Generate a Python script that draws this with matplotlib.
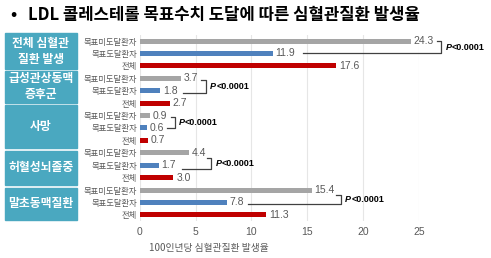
import matplotlib
matplotlib.use('Agg')
import matplotlib.pyplot as plt
from matplotlib.patches import Rectangle

plt.rcParams['font.family'] = ['Noto Sans CJK KR', 'DejaVu Sans']

groups = ['전체 심혈관\n질환 발생', '급성관상동맥\n증후군', '사망', '허혈성뇌졸중', '말초동맥질환']
rows = ['목표미도달환자', '목표도달환자', '전체']
values = [[24.3, 11.9, 17.6],
          [3.7, 1.8, 2.7],
          [0.9, 0.6, 0.7],
          [4.4, 1.7, 3.0],
          [15.4, 7.8, 11.3]]
pvals = ['<0.0001'] * 5
# bracket: vertical line x, start of top line, start of bottom line
brackets = [(27.0, 26.6, 14.6), (5.9, 5.5, 3.85), (3.1, 2.75, 2.4), (6.4, 6.0, 3.75), (18.0, 17.6, 9.7)]
# vertical shift of bracket top / bottom relative to the bars
shifts = [(0.0, 0.0), (0.1, 0.15), (0.15, 0.0), (0.45, 0.3), (0.4, 0.1)]
colors = ['#a5a5a5', '#4f81bd', '#c00000']

fig = plt.figure(figsize=(4.91, 2.58), dpi=100)
ax = fig.add_axes([0.285, 0.143, 0.568, 0.722])

ypos = []
labels = []
for g in range(5):
    for r in range(3):
        y = g * 3 + r
        v = values[g][r]
        ax.barh(y, v, height=0.4, color=colors[r], zorder=3)
        ax.text(v + 0.25, y, f'{v:.1f}', va='center', ha='left', fontsize=7.5,
                color='#595959', family='Liberation Sans')
        ypos.append(y)
        labels.append(rows[r])
    bx, tx, bbx = brackets[g]
    y0 = g * 3 + shifts[g][0]
    y1 = g * 3 + 1 + shifts[g][1]
    ax.plot([tx, bx, bx, bbx], [y0, y0, y1, y1], color='#404040', lw=0.9, clip_on=False, zorder=4)
    ym = (y0 + y1) / 2
    ax.text(bx + 0.4, ym, 'P', va='center', ha='left', fontsize=6.5, fontweight='bold',
            fontstyle='italic', family='Liberation Sans', clip_on=False)
    ax.annotate(pvals[g], (bx + 0.4, ym), xytext=(4.3, 0), textcoords='offset points',
                va='center', ha='left', fontsize=6.5, fontweight='bold',
                family='Liberation Sans', annotation_clip=False)

ax.set_yticks(ypos)
ax.set_yticklabels(labels, fontsize=6, color='#595959')
ax.set_ylim(14.5, -0.5)
ax.set_xlim(0, 25)
ax.set_xticks([0, 5, 10, 15, 20, 25])
ax.tick_params(axis='x', labelsize=7.5, colors='#595959', length=0, pad=4)
for lb in ax.get_xticklabels():
    lb.set_family('Liberation Sans')
ax.tick_params(axis='y', length=0, pad=2)
ax.grid(axis='x', color='#e6e6e6', lw=0.8, zorder=0)
for s in ax.spines.values():
    s.set_visible(False)

fig.text(0.425, 0.04, '100인년당 심혈관질환 발생율', ha='center', va='center', fontsize=7, color='#595959')

# left category boxes (pixel coordinates converted to figure fractions)
W, H = 491, 258
boxes = [(33, 69), (71, 103), (105, 148), (151, 185), (188, 220)]
for (t, b), name in zip(boxes, groups):
    fig.patches.append(Rectangle((5 / W, 1 - b / H), 72 / W, (b - t) / H,
                                 transform=fig.transFigure, color='#4aa8c0'))
    fig.text(41 / W, 1 - (t + b) / 2 / H, name, ha='center', va='center', color='white',
             fontsize=8.5, fontweight='bold', linespacing=1.3)

fig.text(10 / W, 1 - 15 / H, '•', ha='left', va='center', fontsize=12, fontweight='bold')
fig.text(28 / W, 1 - 15 / H, 'LDL 콜레스테롤 목표수치 도달에 따른 심혈관질환 발생율',
         ha='left', va='center', fontsize=12, fontweight='bold')

fig.savefig('out.png', dpi=100)
